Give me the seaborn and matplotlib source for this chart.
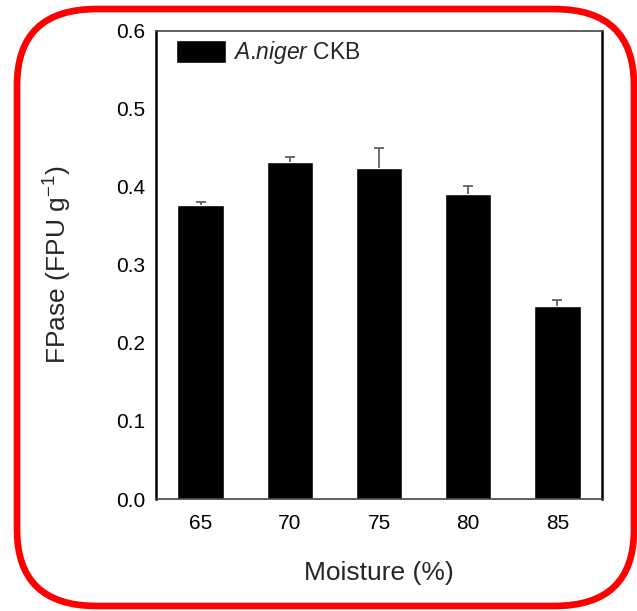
import matplotlib
matplotlib.use('Agg')

import numpy as np
import seaborn as sns
import matplotlib.pyplot as plt
from matplotlib.patches import FancyBboxPatch

# data
moisture = ['65', '70', '75', '80', '85']
fpase = [0.377, 0.432, 0.424, 0.391, 0.247]
fpase_err = [0.004, 0.006, 0.026, 0.010, 0.008]
y_ticks = [0.0, 0.1, 0.2, 0.3, 0.4, 0.5, 0.6]

sns.set_style('white')
plt.rcParams['font.family'] = ['Liberation Sans', 'DejaVu Sans']
plt.rcParams['mathtext.fontset'] = 'custom'
plt.rcParams['mathtext.rm'] = 'Liberation Sans'
plt.rcParams['mathtext.it'] = 'Liberation Sans:italic'
plt.rcParams['mathtext.default'] = 'regular'

fig = plt.figure(figsize=(6.37, 6.11), dpi=100)
ax = fig.add_axes([0.245, 0.1833, 0.700, 0.766])

sns.barplot(x=moisture, y=fpase, color='black', width=0.52,
            errorbar=None, saturation=1, ax=ax,
            label=r'$\it{A}$.$\it{niger}$ CKB')

# upward-only error bars
xpos = np.arange(len(moisture))
tops = np.array(fpase) + np.array(fpase_err)
ax.vlines(xpos, fpase, tops, color='#555555', linewidth=1.2, zorder=3)
ax.scatter(xpos, tops, marker='_', s=45, color='#555555',
           linewidths=1.2, zorder=3)

ax.set_xlim(-0.5, 4.5)
ax.set_ylim(0, 0.6)
ax.set_yticks(y_ticks)
ax.set_yticklabels([f'{t:.1f}' for t in y_ticks])
ax.tick_params(axis='both', length=0, labelsize=15, colors='black')
ax.tick_params(axis='y', pad=8)
ax.tick_params(axis='x', pad=11)

for side in ['left', 'right']:
    ax.spines[side].set_color('black')
    ax.spines[side].set_linewidth(1.8)
for side in ['top', 'bottom']:
    ax.spines[side].set_color('#444444')
    ax.spines[side].set_linewidth(1.2)

ax.set_xlabel('Moisture (%)', fontsize=19, labelpad=20)
ax.set_ylabel(r'FPase (FPU g$^{-1}$)', fontsize=19, labelpad=30)

ax.legend(loc='upper left', frameon=False, fontsize=16.5,
          handlelength=2.2, handleheight=1.2, handletextpad=0.3,
          borderaxespad=0.2, bbox_to_anchor=(0.013, 1.012))

# red rounded frame around the figure
frame = FancyBboxPatch((0.0267, 0.0082), 0.9686, 0.977,
                       boxstyle='round,pad=0,rounding_size=0.125',
                       transform=fig.transFigure, facecolor='none',
                       edgecolor='#ff0000', linewidth=4.8, zorder=10)
fig.patches.append(frame)

fig.savefig('out.png', dpi=100)
